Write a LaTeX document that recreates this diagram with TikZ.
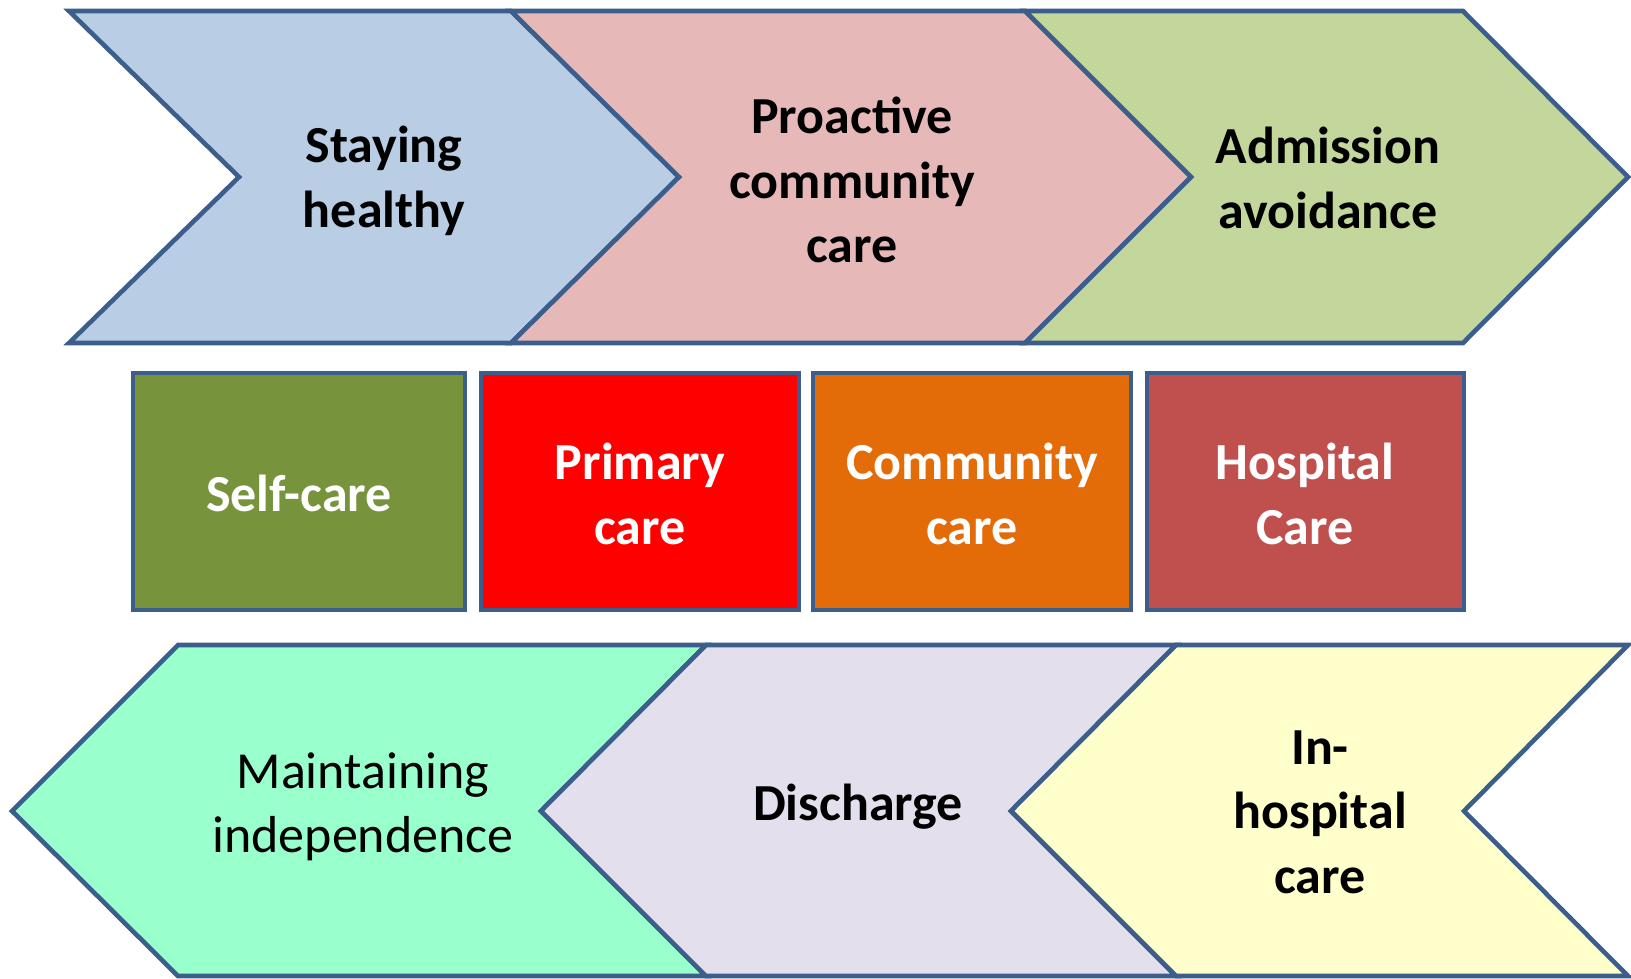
\documentclass[tikz,border=0pt]{standalone}
\usepackage{fontspec}
\setmainfont{Carlito}
\definecolor{edge}{HTML}{3B5E8C}
\definecolor{cblue}{HTML}{B9CDE5}
\definecolor{cpink}{HTML}{E6B9B8}
\definecolor{cgreen}{HTML}{C3D69B}
\definecolor{cself}{HTML}{77933C}
\definecolor{cprim}{HTML}{FF0000}
\definecolor{ccomm}{HTML}{E36C09}
\definecolor{chosp}{HTML}{C0504D}
\definecolor{cmint}{HTML}{99FFCC}
\definecolor{clav}{HTML}{E4DFEC}
\definecolor{cyell}{HTML}{FFFFCC}
\tikzset{
  shapeline/.style={draw=edge, line width=4.6pt, line join=miter},
  lbl/.style={align=center, font=\fontsize{52}{64.5}\selectfont\bfseries, text=black, inner sep=0pt},
  lblw/.style={lbl, text=white},
  lblr/.style={align=center, font=\fontsize{52}{64.5}\selectfont, text=black, inner sep=0pt},
}
\begin{document}
\begin{tikzpicture}[x=1pt,y=-1pt]
\useasboundingbox (0,0) rectangle (1631,978);
% top row chevrons (pointing right)
\draw[shapeline, fill=cblue] (69,11) -- (511,11) -- (679,177) -- (511,343) -- (69,343) -- (239,177) -- cycle;
\draw[shapeline, fill=cpink] (511,11) -- (1025,11) -- (1191,177) -- (1025,343) -- (511,343) -- (679,177) -- cycle;
\draw[shapeline, fill=cgreen] (1025,11) -- (1463,11) -- (1628,177) -- (1463,343) -- (1025,343) -- (1191,177) -- cycle;
\node[lbl] (stay) at (384,181) {Staying\\healthy};
\node[lbl] (proact) at (852,180) {Proactive\\community\\care};
\node[lbl] (admit) at (1328,178) {Admission\\avoidance};
% middle boxes
\draw[shapeline, fill=cself] (133,373) rectangle (465,610);
\draw[shapeline, fill=cprim] (481,373) rectangle (799,610);
\draw[shapeline, fill=ccomm] (813,373) rectangle (1131,610);
\draw[shapeline, fill=chosp] (1147,373) rectangle (1464,610);
\node[lblw] (self) at (299,493) {Self-care};
\node[lblw] (prim) at (640,494) {Primary\\care};
\node[lblw] (comm) at (972,494) {Community\\care};
\node[lblw] (hosp) at (1305,494) {Hospital\\Care};
% bottom row chevrons (pointing left)
\draw[shapeline, fill=cmint] (178,645) -- (706,645) -- (541,811) -- (706,976) -- (178,976) -- (12,811) -- cycle;
\draw[shapeline, fill=clav] (706,645) -- (1176,645) -- (1011,811) -- (1176,976) -- (706,976) -- (541,811) -- cycle;
\draw[shapeline, fill=cyell] (1176,645) -- (1628,645) -- (1464,811) -- (1628,976) -- (1176,976) -- (1011,811) -- cycle;
\node[lblr] (maint) at (363,807) {Maintaining\\independence};
\node[lbl] (disch) at (858,807) {Discharge};
\node[lbl] (inhosp) at (1320,812) {In-\\hospital\\care};
\end{tikzpicture}
\end{document}
